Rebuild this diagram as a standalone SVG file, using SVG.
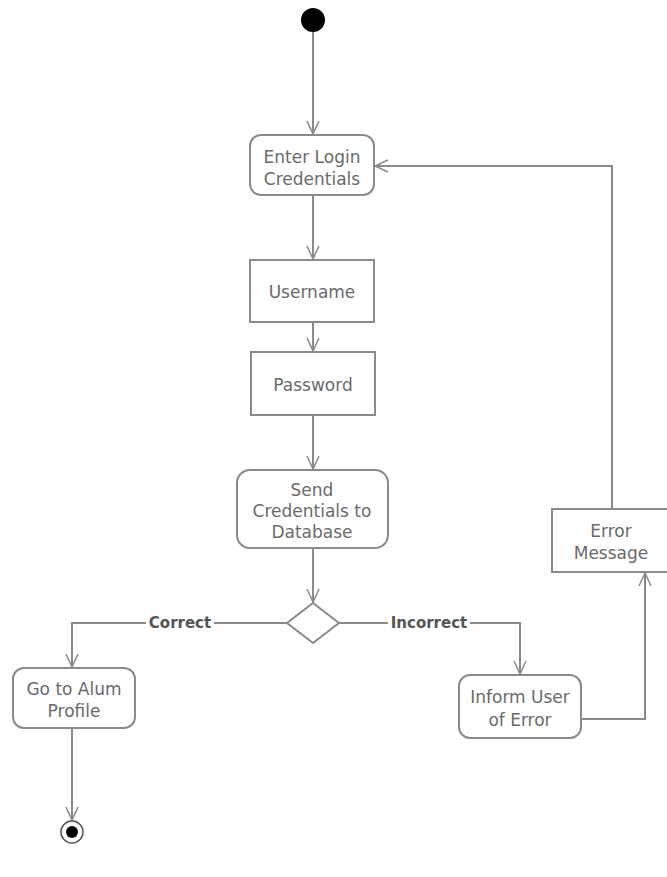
<svg xmlns="http://www.w3.org/2000/svg" width="667" height="877" viewBox="0 0 667 877">
<defs>
<marker id="arr" markerWidth="16" markerHeight="16" refX="14" refY="8" orient="auto" markerUnits="userSpaceOnUse">
<path d="M1,2 L14,8 L1,14" fill="none" stroke="#8a8a8a" stroke-width="1.5"/>
</marker>
<style>
.box{fill:#fff;stroke:#8a8a8a;stroke-width:2}
.t{font-family:"DejaVu Sans",sans-serif;font-size:17px;fill:#6a6a6a;text-anchor:middle}
.lbl{font-family:"DejaVu Sans",sans-serif;font-size:15px;font-weight:bold;fill:#555;text-anchor:middle}
.c{fill:none;stroke:#8a8a8a;stroke-width:2;marker-end:url(#arr)}
</style>
</defs>
<rect width="667" height="877" fill="#fff"/>
<g id="connectors">
<path class="c" d="M313,32 V134"/>
<path class="c" d="M313,196 V259"/>
<path class="c" d="M313,323 V351"/>
<path class="c" d="M313,416 V469"/>
<path class="c" d="M313,549 V602"/>
<path class="c" d="M287,623 H72 V667"/>
<path class="c" d="M339,623 H520 V674"/>
<path class="c" d="M582,719 H645 V573"/>
<path class="c" d="M612,509 V166 H375"/>
<path class="c" d="M72,729 V820"/>
<rect x="146" y="612" width="68" height="20" fill="#fff"/>
<text class="lbl" x="180" y="628">Correct</text>
<rect x="388" y="612" width="82" height="20" fill="#fff"/>
<text class="lbl" x="429" y="628">Incorrect</text>
</g>
<g id="start"><circle cx="313" cy="20" r="12" fill="#000"/></g>
<g id="enter-login">
<rect class="box" x="250" y="135" width="124" height="60" rx="11"/>
<text class="t" x="312" y="163">Enter Login</text>
<text class="t" x="312" y="185">Credentials</text>
</g>
<g id="username">
<rect class="box" x="250" y="260" width="124" height="62"/>
<text class="t" x="312" y="298">Username</text>
</g>
<g id="password">
<rect class="box" x="251" y="352" width="124" height="63"/>
<text class="t" x="313" y="391">Password</text>
</g>
<g id="send-credentials">
<rect class="box" x="237" y="470" width="151" height="78" rx="13"/>
<text class="t" x="312" y="496">Send</text>
<text class="t" x="312" y="517">Credentials to</text>
<text class="t" x="312" y="538">Database</text>
</g>
<g id="decision">
<polygon class="box" points="313,603 339,623 313,643 287,623"/>
</g>
<g id="alum-profile">
<rect class="box" x="13" y="668" width="122" height="60" rx="11"/>
<text class="t" x="74" y="695">Go to Alum</text>
<text class="t" x="74" y="717">Profile</text>
</g>
<g id="inform-user">
<rect class="box" x="459" y="675" width="122" height="63" rx="11"/>
<text class="t" x="520" y="703">Inform User</text>
<text class="t" x="520" y="726">of Error</text>
</g>
<g id="error-message">
<rect class="box" x="552" y="509" width="120" height="63"/>
<text class="t" x="611" y="537">Error</text>
<text class="t" x="611" y="559">Message</text>
</g>
<g id="end">
<circle cx="72" cy="832" r="11" fill="#fff" stroke="#555" stroke-width="1.5"/>
<circle cx="72" cy="832" r="6" fill="#000"/>
</g>
</svg>
